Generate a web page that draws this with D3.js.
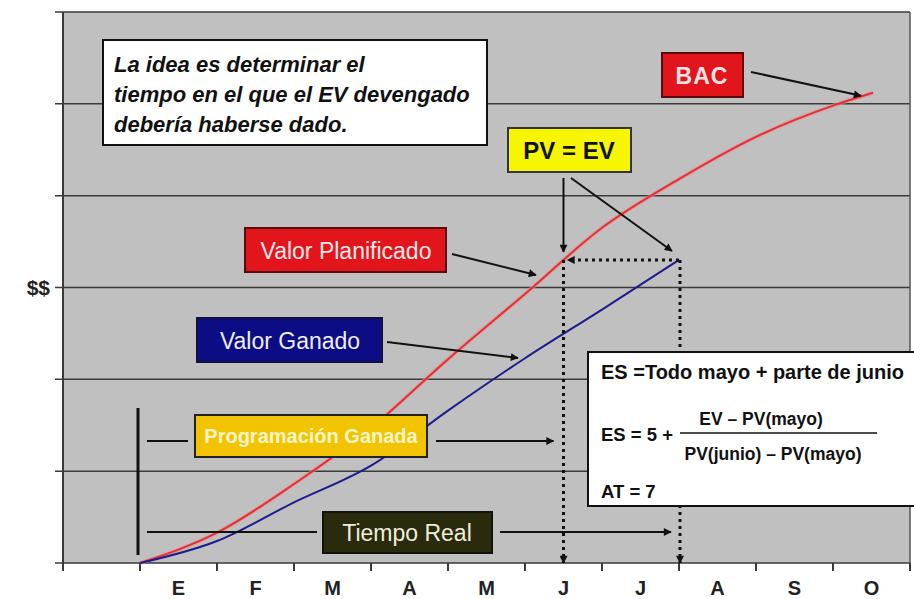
<!DOCTYPE html>
<html>
<head>
<meta charset="utf-8">
<script src="https://cdn.jsdelivr.net/npm/d3@7"></script>
<style>
  html, body { margin: 0; padding: 0; background: #ffffff; }
  svg { display: block; font-family: "Liberation Sans", Arial, sans-serif; }
</style>
</head>
<body>
<div id="chart"></div>
<script>
// months on the x axis (one blank slot before enero)
const months = ["E", "F", "M", "A", "M", "J", "J", "A", "S", "O"];
// planned value (red) - time in months, value in $
const pvTime = [0, 1, 2, 3, 4, 5, 6, 7, 8, 9, 9.52];
const pvValues = [0, 33, 86, 147, 222, 293, 365, 418, 464, 498, 512];
// earned value (blue)
const evTime = [0, 1, 2, 3, 4, 5, 6, 7];
const evValues = [0, 24, 66, 106, 166, 223, 276, 330];
const yTicks = [0, 100, 200, 300, 400, 500, 600];
const esTime = 5.5;   // earned schedule
const atTime = 7;     // actual time

document.addEventListener("DOMContentLoaded", function() {
    const width = 914, height = 599;

    const svg = d3.select("#chart")
        .append("svg")
        .attr("width", width)
        .attr("height", height);

    const x = d3.scaleLinear().domain([-1, 10]).range([63, 910]);
    const y = d3.scaleLinear().domain([0, 600]).range([563, 12]);

    const defs = svg.append("defs");
    defs.append("marker")
        .attr("id", "head")
        .attr("viewBox", "0 0 10 10")
        .attr("refX", 9).attr("refY", 5)
        .attr("markerWidth", 10).attr("markerHeight", 8)
        .attr("markerUnits", "userSpaceOnUse")
        .attr("orient", "auto")
        .append("path").attr("d", "M0,0 L10,5 L0,10 z").attr("fill", "#111");

    // plot background
    svg.append("rect")
        .attr("x", x(-1)).attr("y", y(600))
        .attr("width", x(10) - x(-1)).attr("height", y(0) - y(600))
        .attr("fill", "#c0c0c0");

    // horizontal grid lines (they poke out left as ticks)
    svg.selectAll(".grid")
        .data(yTicks)
        .enter().append("line")
        .attr("x1", x(-1) - 8).attr("x2", x(10))
        .attr("y1", d => y(d)).attr("y2", d => y(d))
        .attr("stroke", "#3a3a3a").attr("stroke-width", 1.5);

    // y axis + right border
    svg.append("line").attr("x1", x(-1)).attr("x2", x(-1)).attr("y1", y(600)).attr("y2", y(0))
        .attr("stroke", "#3a3a3a").attr("stroke-width", 2);
    svg.append("line").attr("x1", x(10)).attr("x2", x(10)).attr("y1", y(600)).attr("y2", y(0) + 8)
        .attr("stroke", "#555").attr("stroke-width", 1.5);

    // x axis ticks
    svg.selectAll(".xtick")
        .data(d3.range(-1, 11))
        .enter().append("line")
        .attr("x1", d => x(d)).attr("x2", d => x(d))
        .attr("y1", y(0)).attr("y2", y(0) + 8)
        .attr("stroke", "#3a3a3a").attr("stroke-width", 2);

    svg.selectAll(".month")
        .data(months)
        .enter().append("text")
        .attr("x", (d, i) => x(i + 0.5))
        .attr("y", 595)
        .attr("text-anchor", "middle")
        .attr("font-size", 20).attr("font-weight", "bold")
        .attr("fill", "#222")
        .text(d => d);

    svg.append("text")
        .attr("x", 50).attr("y", y(300) + 7)
        .attr("text-anchor", "end")
        .attr("font-size", 21).attr("font-weight", "bold").attr("fill", "#222")
        .text("$$");

    // curves
    const line = d3.line()
        .x(d => x(d[0]))
        .y(d => y(d[1]))
        .curve(d3.curveMonotoneX);

    svg.append("path")
        .datum(pvTime.map((t, i) => [t, pvValues[i]]))
        .attr("d", line)
        .attr("fill", "none")
        .attr("stroke", "#f08a8a").attr("stroke-width", 4).attr("opacity", 0.6);
    svg.append("path")
        .datum(pvTime.map((t, i) => [t, pvValues[i]]))
        .attr("d", line)
        .attr("fill", "none")
        .attr("stroke", "#e0313a").attr("stroke-width", 2);

    svg.append("path")
        .datum(evTime.map((t, i) => [t, evValues[i]]))
        .attr("d", line)
        .attr("fill", "none")
        .attr("stroke", "#1c1c8c").attr("stroke-width", 2);

    const evAt = evValues[evValues.length - 1];

    function arrow(x1, y1, x2, y2, head = true, w = 2) {
        const l = svg.append("line")
            .attr("x1", x1).attr("y1", y1).attr("x2", x2).attr("y2", y2)
            .attr("stroke", "#111").attr("stroke-width", w);
        if (head) l.attr("marker-end", "url(#head)");
        return l;
    }
    function dotted(x1, y1, x2, y2) {
        return arrow(x1, y1, x2, y2, true, 3).attr("stroke-dasharray", "3,4");
    }

    // dotted guides: ES and AT
    dotted(x(atTime), y(evAt), x(esTime) + 4, y(evAt));
    dotted(x(esTime), y(evAt), x(esTime), y(0));
    dotted(x(atTime) + 1, y(evAt), x(atTime) + 1, y(0));

    // text boxes
    function box(x0, y0, w, h, fill, stroke) {
        return svg.append("rect")
            .attr("x", x0).attr("y", y0).attr("width", w).attr("height", h)
            .attr("fill", fill).attr("stroke", stroke).attr("stroke-width", 2);
    }
    function label(tx, ty, txt, size, color, weight, anchor) {
        return svg.append("text")
            .attr("x", tx).attr("y", ty)
            .attr("text-anchor", anchor || "middle")
            .attr("font-size", size).attr("font-weight", weight || "normal")
            .attr("fill", color)
            .text(txt);
    }

    // intro note
    box(103, 40, 384, 105, "#ffffff", "#111");
    ["La idea es determinar el", "tiempo en el que el EV devengado", "debería haberse dado."]
        .forEach((t, i) => {
            label(114, 72 + i * 30, t, 22, "#111", "bold", "start").attr("font-style", "italic");
        });

    // BAC
    box(662, 53, 81, 44, "#e2141c", "#5a0a0a");
    label(702, 84, "BAC", 23, "#fbe4e4", "bold").attr("letter-spacing", 1);
    arrow(751, 72, x(pvTime[pvTime.length - 1]) - 12, y(pvValues[pvValues.length - 1]) + 3);

    // PV = EV
    box(508, 128, 123, 44, "#f6f600", "#333");
    label(569, 159, "PV = EV", 24, "#111", "bold");
    arrow(x(esTime), 178, x(esTime), y(evAt) - 8);
    arrow(571, 178, x(atTime) - 7, y(evAt) - 9);

    // Valor Planificado
    box(245, 228, 201, 44, "#e2141c", "#5a0a0a");
    label(346, 259, "Valor Planificado", 23, "#fde8e8");
    arrow(452, 254, 536, 275);

    // Valor Ganado
    box(197, 318, 185, 44, "#0c0c84", "#111140");
    label(290, 349, "Valor Ganado", 23, "#eeeeff");
    arrow(387, 342, 518, 358);

    // Programacion ganada / tiempo real brackets
    arrow(138, 408, 138, 555, false, 3);
    arrow(147, 441, 188, 441, false);
    arrow(436, 441, x(esTime) - 10, 441);
    box(195, 415, 232, 42, "#f2c400", "#222");
    label(311, 443, "Programación Ganada", 20, "#fdf5c8", "bold");

    arrow(147, 532, 317, 532, false);
    arrow(500, 532, x(atTime) - 8, 532);
    box(323, 512, 169, 41, "#2a2a0c", "#111");
    label(407, 541, "Tiempo Real", 23, "#eeeedc");

    // formula box
    box(588, 352, 340, 154, "#ffffff", "#111");
    label(601, 379, "ES =Todo mayo + parte de junio", 20, "#111", "bold", "start");
    label(601, 441, "ES = 5 +", 18.5, "#111", "bold", "start");
    label(761, 425, "EV – PV(mayo)", 17.5, "#111", "bold");
    svg.append("line").attr("x1", 680).attr("x2", 877).attr("y1", 433).attr("y2", 433)
        .attr("stroke", "#111").attr("stroke-width", 1.5);
    label(773, 460, "PV(junio) – PV(mayo)", 17.5, "#111", "bold");
    label(601, 498, "AT = 7", 18.5, "#111", "bold", "start");
});
</script>
</body>
</html>
